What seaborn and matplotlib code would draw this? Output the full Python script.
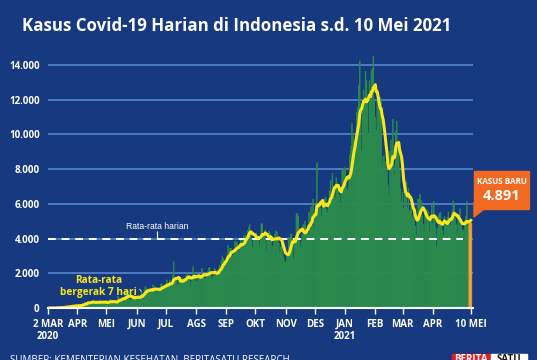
import pandas as pd
import matplotlib.pyplot as plt
import matplotlib.patches as mpatches
import seaborn as sns

# kasus harian, per bulan
mar_2020 = [2, 0, 0, 0, 2, 0, 2, 13, 8, 7, 0, 35, 27, 21, 17, 38, 55, 82, 60, 81,
            64, 65, 106, 105, 103, 153, 109, 130, 129, 114]
apr_2020 = [149, 113, 196, 106, 181, 218, 247, 218, 337, 219, 330, 399, 316, 282, 297,
            380, 407, 325, 327, 185, 375, 283, 357, 436, 396, 275, 214, 415, 260, 347]
mei_2020 = [433, 292, 271, 395, 484, 367, 338, 336, 387, 233, 233, 484, 689, 568, 490, 529,
            489, 496, 486, 693, 973, 634, 949, 526, 479, 415, 686, 687, 678, 557, 700]
jun_2020 = [467, 609, 684, 585, 703, 993, 672, 847, 1043, 1241, 979, 1111, 1014, 857, 1017,
            1106, 1031, 1331, 1041, 1226, 862, 954, 1051, 1113, 1178, 1385, 1385, 1198, 1082, 1293]
jul_2020 = [1285, 1624, 1301, 1447, 1607, 1209, 1268, 1853, 2657, 1611, 1671, 1681, 1282, 1591,
            1522, 1574, 1462, 1752, 1639, 1693, 1655, 1882, 2051, 1761, 1868, 1287, 1525, 1748,
            2381, 1904, 2040]
ags_2020 = [1560, 1519, 1679, 1922, 1815, 1882, 2277, 2003, 1893, 1687, 1693, 1942, 2098, 2307,
            2345, 2081, 1821, 1673, 1902, 2266, 2197, 2037, 2173, 1877, 2447, 2306, 2719, 3003,
            2858, 2495, 2743]
sep_2020 = [2775, 3075, 3622, 3269, 3444, 3444, 2880, 3046, 3307, 3861, 3737, 3806, 3636, 3141,
            3507, 3963, 3635, 3891, 4168, 3989, 4176, 4071, 4465, 4634, 4823, 4494, 3874, 3509,
            4002, 4284]
okt_2020 = [4174, 4317, 4007, 3992, 3622, 4056, 4850, 4850, 4094, 4294, 4497, 3267, 3906, 4127,
            4411, 4301, 4105, 3373, 3602, 3803, 4267, 4432, 4369, 4070, 3732, 3222, 3520, 4029,
            3143, 2897, 2696]
nov_2020 = [2618, 2973, 3143, 4065, 4065, 4262, 4262, 3880, 2853, 3770, 3779, 5444, 5444, 5272,
            4106, 3535, 3807, 4265, 4798, 4792, 4998, 4360, 4442, 4192, 5534, 4917, 5828, 5418,
            6267, 4617]
des_2020 = [5092, 5533, 8369, 5803, 6027, 6089, 5754, 5292, 6058, 6033, 6310, 6388, 5681, 5489,
            6120, 6725, 7354, 6689, 7751, 6848, 6982, 6347, 7514, 7199, 6808, 6528, 5854, 6527,
            7903, 8002, 8074]
jan_2021 = [8072, 7203, 6877, 6753, 7445, 8854, 9321, 10617, 10046, 9640, 8692, 10047, 11278,
            11557, 12818, 14224, 11287, 9086, 11755, 12568, 11703, 13632, 13094, 11788, 9994,
            13094, 11948, 13695, 13802, 14518, 12001]
feb_2021 = [10994, 10234, 11984, 11434, 11749, 12156, 11881, 8242, 8700, 8776, 8435, 7869, 8844,
            7098, 6462, 9029, 9687, 9039, 10869, 8300, 7656, 10180, 10775, 9502, 9493, 7903,
            6858, 6136]
mar_2021 = [6680, 5712, 6808, 6825, 7264, 5767, 6894, 5575, 5633, 5926, 5144, 5365, 5096, 4714,
            4174, 5008, 6268, 6279, 6570, 6201, 5304, 4834, 4396, 5416, 5227, 5654, 5547, 5048,
            4355, 5305, 5937]
apr_2021 = [4871, 6162, 5325, 4649, 3543, 4549, 5325, 5473, 5495, 4925, 4446, 4196, 5281, 4955,
            5047, 5228, 5533, 5041, 4731, 5200, 5589, 6177, 5947, 5191, 4803, 4176, 5227, 4683,
            5724, 5106]
mei_2021 = [4512, 4512, 4369, 5036, 5285, 6130, 4800, 4700, 4505, 4891]

rata_harian = 3951

tick_tanggal = ['2020-03-02', '2020-04-01', '2020-05-01', '2020-06-01', '2020-07-01',
                '2020-08-01', '2020-09-01', '2020-10-01', '2020-11-01', '2020-12-01',
                '2021-01-01', '2021-02-01', '2021-03-01', '2021-04-01', '2021-05-10']
tick_label = ['2 MAR\n2020', 'APR', 'MEI', 'JUN', 'JUL', 'AGS', 'SEP', 'OKT', 'NOV', 'DES',
              'JAN\n2021', 'FEB', 'MAR', 'APR', '10 MEI']

BG = '#16397f'
GRID = '#5b8fd8'
HIJAU = '#2b8c4c'
KUNING = '#f7e619'
ORANYE = '#f5a031'
KOTAK = '#f26a21'

plt.rcParams['font.family'] = ['Open Sans', 'DejaVu Sans']

kasus = (mar_2020 + apr_2020 + mei_2020 + jun_2020 + jul_2020 + ags_2020 + sep_2020 + okt_2020
         + nov_2020 + des_2020 + jan_2021 + feb_2021 + mar_2021 + apr_2021 + mei_2021)
awal = pd.Timestamp('2020-03-02')
df = pd.DataFrame({'hari': range(len(kasus)), 'kasus': kasus})
df['rata7'] = df['kasus'].rolling(7, min_periods=1).mean()

fig = plt.figure(figsize=(5.37, 3.6), dpi=100, facecolor=BG)
ax = fig.add_axes([48 / 537, 52 / 360, 425 / 537, 253.4 / 360])
ax.set_facecolor(BG)

sns.barplot(data=df, x='hari', y='kasus', native_scale=True, color=HIJAU, saturation=1,
            errorbar=None, width=0.8, linewidth=0.45, edgecolor=HIJAU, snap=False,
            ax=ax, zorder=2)
# batang terakhir oranye
terakhir = max(ax.patches, key=lambda p: p.get_x())
terakhir.set_facecolor(ORANYE)
terakhir.set_edgecolor(ORANYE)
terakhir.set_x(terakhir.get_x() - 1.5)
terakhir.set_width(3)

ax.hlines(rata_harian, 0, 426, colors='white', linestyles=(0, (4, 3)), lw=1.4, zorder=3)
sns.lineplot(data=df, x='hari', y='rata7', color=KUNING, lw=2.2, errorbar=None, ax=ax, zorder=4)

ax.set_xlim(0, 436.3)
ax.set_ylim(0, 14600)
ax.set_yticks(range(0, 14001, 2000))
ax.set_yticklabels([f'{v:,}'.replace(',', '.') for v in range(0, 14001, 2000)])
ax.yaxis.grid(True, color=GRID, lw=1.1)
ax.set_axisbelow(True)
posisi = [(pd.Timestamp(t) - awal).days for t in tick_tanggal]
ax.set_xticks(posisi)
ax.set_xticklabels(tick_label, linespacing=1.1)
ax.set_xlabel('')
ax.set_ylabel('')
for s in ['top', 'right', 'left']:
    ax.spines[s].set_visible(False)
ax.spines['bottom'].set_color('white')
ax.spines['bottom'].set_linewidth(1.5)
ax.spines['bottom'].set_zorder(5)
ax.tick_params(axis='y', length=0, pad=6, labelcolor='white', labelsize=7)
ax.tick_params(axis='x', colors='white', length=4, width=1, pad=4, labelsize=7)
for lbl in ax.get_yticklabels() + ax.get_xticklabels():
    lbl.set_fontweight('bold')

# anotasi
ax.text(112, 4670, 'Rata-rata harian', ha='center', va='center', color='white',
        fontsize=6.2, family=['Liberation Sans'])
ax.vlines(112, 4050, 4420, colors='white', lw=0.8, zorder=3)
ax.text(52, 1230, 'Rata-rata\nbergerak 7 hari', ha='center', va='center', color=KUNING,
        fontsize=7.3, fontweight='bold', linespacing=1.1, zorder=6)
ax.annotate('', xy=(96, 800), xytext=(91, 1120),
            arrowprops=dict(arrowstyle='-', color='#c8c8c8', lw=0.7,
                            connectionstyle='arc3,rad=-0.5'))


def px(x, y):
    return (x / 537, 1 - y / 360)


# kotak kasus baru
fig.patches.append(mpatches.Rectangle(px(474, 209), 55 / 537, 38 / 360, color=KOTAK,
                                      transform=fig.transFigure, figure=fig))
fig.patches.append(mpatches.Polygon([px(474, 202), px(484, 209), px(474, 217)], color=KOTAK,
                                    transform=fig.transFigure, figure=fig))
fig.text(*px(501.5, 182), 'KASUS BARU', ha='center', va='center', color='white',
         fontsize=5.8, fontweight='bold')
fig.text(*px(501.5, 196), f'{kasus[-1]:,}'.replace(',', '.'), ha='center', va='center',
         color='white', fontsize=10.5, fontweight='bold')

fig.text(*px(22, 26), 'Kasus Covid-19 Harian di Indonesia s.d. 10 Mei 2021', ha='left',
         va='center', color='white', fontsize=12.2, fontweight='bold')
fig.text(*px(10, 355), 'SUMBER: KEMENTERIAN KESEHATAN, BERITASATU RESEARCH', ha='left',
         va='top', color='white', fontsize=7)

# logo
fig.patches.append(mpatches.Rectangle(px(452, 366), 38 / 537, 12 / 360, color='#e31e24',
                                      transform=fig.transFigure, figure=fig))
fig.patches.append(mpatches.Rectangle(px(491, 366), 36 / 537, 12 / 360, color='white',
                                      transform=fig.transFigure, figure=fig))
fig.text(*px(471, 354.5), 'BERITA', ha='center', va='top', color='white', fontsize=7,
         fontweight='bold')
fig.text(*px(509, 354.5), 'SATU', ha='center', va='top', color='#1a1a1a', fontsize=7,
         fontweight='bold')

fig.savefig('out.png', dpi=100, facecolor=BG)
